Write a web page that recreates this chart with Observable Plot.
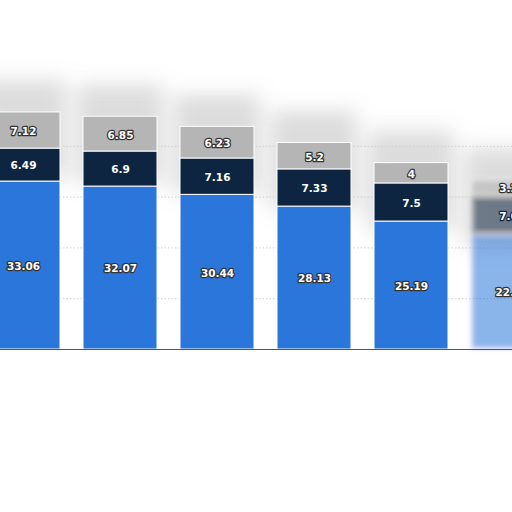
<!DOCTYPE html>
<html><head><meta charset="utf-8">
<script src="https://cdn.jsdelivr.net/npm/d3@7"></script>
<script src="https://cdn.jsdelivr.net/npm/@observablehq/plot@0.6"></script>
<style>body{margin:0;background:#fff;overflow:hidden}</style>
</head><body><div id="c"></div>
<script>
const categories = ["A","B","C","D","E","F"];
const blueValues = [33.06, 32.07, 30.44, 28.13, 25.19, 22.6];
const navyValues = [6.49, 6.9, 7.16, 7.33, 7.5, 7.6];
const grayValues = [7.12, 6.85, 6.23, 5.2, 4, 3.2];
const gridTicks = [10, 20, 30, 40];
const seriesNames = ["s1", "s2", "s3"];
const colors = ["#2b76db", "#0e2541", "#b5b5b5"];

const rows = [];
categories.forEach((c, i) => {
  const vals = [blueValues[i], navyValues[i], grayValues[i]];
  let y = 0;
  vals.forEach((v, k) => {
    rows.push({cat: c, series: seriesNames[k], y1: y, y2: y + v, v, faded: i === 5});
    y += v;
  });
});
const totals = categories.map((c, i) => ({cat: c, total: blueValues[i] + navyValues[i] + grayValues[i]}));
const solid = rows.filter(d => !d.faded);
const faded = rows.filter(d => d.faded);

const plot = Plot.plot({
  width: 512, height: 512,
  marginTop: 95, marginBottom: 163, marginLeft: 0, marginRight: 0,
  x: {domain: categories, range: [-28, 558], paddingInner: 0.24, paddingOuter: 0.12, axis: null},
  y: {domain: [0, 50], axis: null},
  color: {domain: seriesNames, range: colors},
  marks: [
    Plot.rect(totals, {x: "cat", y1: d => d.total - 12, y2: d => d.total + 5, fill: "#8a8a8a", fillOpacity: 0.3, inset: -6}),
    Plot.ruleY(gridTicks, {stroke: "#cfcfcf", strokeDasharray: "1.5,2", strokeWidth: 1}),
    Plot.barY(solid, {x: "cat", y1: "y1", y2: "y2", fill: "series", stroke: "white", strokeWidth: 1}),
    Plot.barY(faded, {x: "cat", y1: "y1", y2: "y2", fill: "series", fillOpacity: 0.55, stroke: "white", strokeWidth: 1}),
    Plot.ruleY([0], {stroke: "#555", strokeWidth: 1}),
    Plot.text(rows, {x: "cat", y: d => (d.y1 + d.y2) / 2, text: d => String(d.v), fill: "white", stroke: d => d.series === "s2" ? "#0e2541" : "#333", strokeWidth: 2.5, fontSize: 10.5, fontWeight: "bold", fontFamily: "DejaVu Sans", dy: 1})
  ]
});
const svg = d3.select(plot);
const defs = svg.insert("defs", ":first-child");
defs.append("filter").attr("id", "blurShadow").attr("x", "-50%").attr("y", "-50%").attr("width", "200%").attr("height", "200%")
  .append("feGaussianBlur").attr("stdDeviation", 10);
defs.append("filter").attr("id", "blurFaded").attr("x", "-20%").attr("y", "-20%").attr("width", "140%").attr("height", "140%")
  .append("feGaussianBlur").attr("stdDeviation", 2.5);
svg.selectAll('g[fill="#8a8a8a"]').attr("filter", "url(#blurShadow)");
svg.selectAll('g[fill-opacity="0.55"]').attr("filter", "url(#blurFaded)");
document.getElementById("c").appendChild(plot);
</script>
</body></html>
